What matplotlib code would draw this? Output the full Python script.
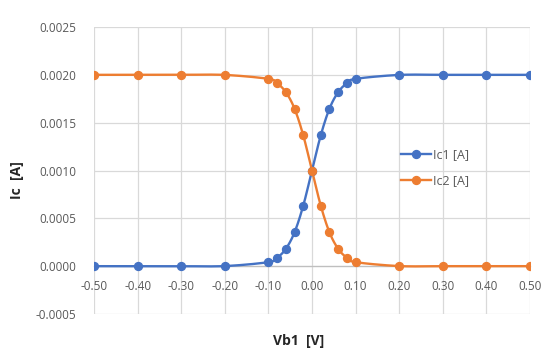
import numpy as np
import matplotlib
matplotlib.use("Agg")
import matplotlib.pyplot as plt
from matplotlib.lines import Line2D

vb1 = [-0.50, -0.40, -0.30, -0.20, -0.10, -0.08, -0.06, -0.04, -0.02, 0.00,
       0.02, 0.04, 0.06, 0.08, 0.10, 0.20, 0.30, 0.40, 0.50]
ic1 = [0.0, 0.0, 0.0, 0.000001, 0.000042, 0.000088, 0.000181, 0.000354, 0.000634, 0.001,
       0.001366, 0.001646, 0.001819, 0.001912, 0.001958, 0.001999, 0.002, 0.002, 0.002]
ic2 = [0.002, 0.002, 0.002, 0.001999, 0.001958, 0.001912, 0.001819, 0.001646, 0.001366, 0.001,
       0.000634, 0.000354, 0.000181, 0.000088, 0.000042, 0.000001, 0.0, 0.0, 0.0]
series_names = ["Ic1 [A]", "Ic2 [A]"]
xticks = [-0.5, -0.4, -0.3, -0.2, -0.1, 0.0, 0.1, 0.2, 0.3, 0.4, 0.5]
yticks = [-0.0005, 0.0, 0.0005, 0.0010, 0.0015, 0.0020, 0.0025]

def smooth(x, y, n=20):
    # Excel-like smoothed line: cubic Bezier with Catmull-Rom control points
    x = np.asarray(x, float); y = np.asarray(y, float)
    P = np.column_stack([x, y])
    out = [P[0]]
    t = np.linspace(0, 1, n)[1:]
    for i in range(len(P) - 1):
        p0 = P[i - 1] if i > 0 else P[i]
        p1 = P[i]; p2 = P[i + 1]
        p3 = P[i + 2] if i + 2 < len(P) else P[i + 1]
        c1 = p1 + (p2 - p0) / 6.0
        c2 = p2 - (p3 - p1) / 6.0
        for tt in t:
            b = ((1 - tt) ** 3) * p1 + 3 * ((1 - tt) ** 2) * tt * c1 + 3 * (1 - tt) * tt ** 2 * c2 + tt ** 3 * p2
            out.append(b)
    out = np.array(out)
    return out[:, 0], out[:, 1]

plt.rcParams['font.family'] = ['Open Sans', 'DejaVu Sans']

fig = plt.figure(figsize=(5.48, 3.58), dpi=100)
ax = fig.add_axes([94/548, 1 - 314/358, (530 - 94)/548, (314 - 27)/358])

colors = ["#4472C4", "#ED7D31"]
for ys, c, name in zip([ic1, ic2], colors, series_names):
    sx, sy = smooth(vb1, ys)
    ax.plot(sx, sy, color=c, lw=1.7, zorder=3, solid_capstyle='round')
    ax.plot(vb1, ys, 'o', color=c, ms=5.7, zorder=4)

ax.set_xlim(-0.5, 0.5)
ax.set_ylim(-0.0005, 0.0025)
ax.set_xticks(xticks)
ax.set_yticks(yticks)
ax.set_xticklabels([f"{v:.2f}" for v in xticks])
ax.set_yticklabels([f"{v:.4f}" for v in yticks])
ax.grid(True, color="#D9D9D9", lw=0.9)
ax.set_axisbelow(True)
for s in ['top', 'right', 'left']:
    ax.spines[s].set_visible(False)
ax.spines['bottom'].set_position(('data', 0))
ax.spines['bottom'].set_color("#BFBFBF")
ax.spines['bottom'].set_linewidth(0.9)
ax.tick_params(axis='both', length=0, labelsize=8.5, labelcolor="#595959")
ax.tick_params(axis='x', pad=10)
ax.tick_params(axis='y', pad=13)

fig.text(299/548, 1 - 341/358, "Vb1  [V]", ha='center', va='center',
         fontsize=10, fontweight='bold', color="#262626")
fig.text(17/548, 1 - 180/358, "Ic  [A]", ha='center', va='center', rotation=90,
         fontsize=10, fontweight='bold', color="#262626")

handles = [Line2D([0], [0], color=c, lw=1.7, marker='o', ms=5.7) for c in colors]
leg = fig.legend(handles, series_names, loc='upper left',
                 bbox_to_anchor=(401/548, 1 - 148/358), frameon=False,
                 fontsize=9, handlelength=2.4, handletextpad=0.15, labelspacing=1.05,
                 borderpad=0, borderaxespad=0)
for t in leg.get_texts():
    t.set_color("#595959")

fig.savefig("out.png", dpi=100)
